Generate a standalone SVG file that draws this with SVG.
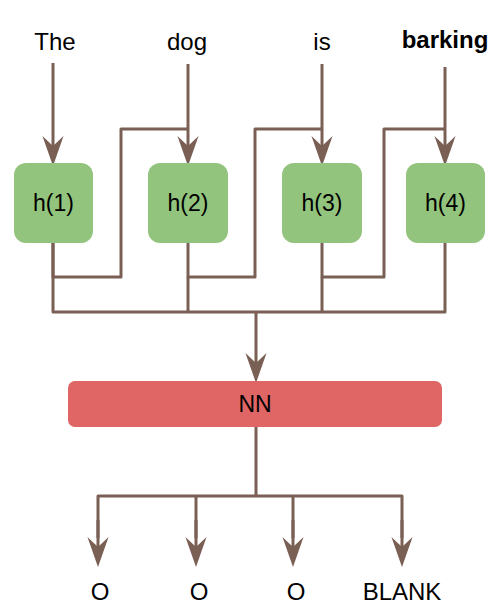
<svg xmlns="http://www.w3.org/2000/svg" width="498" height="616" viewBox="0 0 498 616">
<style>
.ln{fill:none;stroke:#7A5F55;stroke-width:3;stroke-linejoin:round}
.ar{marker-end:url(#ah)}
.h{fill:#93C47D}
.nn{fill:#E06666}
text{font-family:"Liberation Sans",Arial,sans-serif;fill:#000;text-anchor:middle}
.w{font-size:24px}
.b{font-weight:bold}
.hl{font-size:23px}
</style>
<defs>
<marker id="ah" markerUnits="userSpaceOnUse" markerWidth="30" markerHeight="24" viewBox="0 0 27 20" refX="9" refY="10" orient="auto">
<path d="M0,0.5 L27,10 L0,19.5 L9,10 Z" fill="#7A5F55"/>
</marker>
</defs>
<g id="words">
<text class="w" x="55" y="50">The</text>
<text class="w" x="187" y="50">dog</text>
<text class="w" x="322" y="50">is</text>
<text class="w b" x="445" y="48">barking</text>
</g>
<g id="connectors">
<path class="ln ar" d="M53,63 V146"/>
<path class="ln ar" d="M188,64 V146"/>
<path class="ln ar" d="M322,64 V146"/>
<path class="ln ar" d="M445,67 V146"/>
<path class="ln" d="M53,243 V277 H121 V129 H188"/>
<path class="ln" d="M188,243 V277 H255 V129 H322"/>
<path class="ln" d="M322,243 V277 H384 V129 H445"/>
<path class="ln" d="M53,243 V312 H445 V243"/>
<path class="ln" d="M188,277 V312 M322,277 V312"/>
<path class="ln ar" d="M256,312 V363"/>
<path class="ln" d="M256,427 V496 M98,538 V496 H402 V538 M196,496 V538 M293,496 V538"/>
<path class="ln ar" d="M98,520 V547"/>
<path class="ln ar" d="M196,520 V547"/>
<path class="ln ar" d="M293,520 V547"/>
<path class="ln ar" d="M402,520 V547"/>
</g>
<g id="h1"><rect class="h" x="14" y="163" width="79" height="80" rx="12"/><text class="hl" x="53.5" y="211">h(1)</text></g>
<g id="h2"><rect class="h" x="148" y="163" width="80" height="80" rx="12"/><text class="hl" x="188" y="211">h(2)</text></g>
<g id="h3"><rect class="h" x="282" y="163" width="80" height="80" rx="12"/><text class="hl" x="322" y="211">h(3)</text></g>
<g id="h4"><rect class="h" x="406" y="163" width="79" height="80" rx="12"/><text class="hl" x="445.5" y="211">h(4)</text></g>
<g id="nn"><rect class="nn" x="68" y="381" width="374" height="46" rx="7"/><text class="hl" x="255" y="412">NN</text></g>
<g id="outputs">
<text class="w" x="100" y="600">O</text>
<text class="w" x="199" y="600">O</text>
<text class="w" x="296" y="600">O</text>
<text class="w" x="402" y="600">BLANK</text>
</g>
</svg>
